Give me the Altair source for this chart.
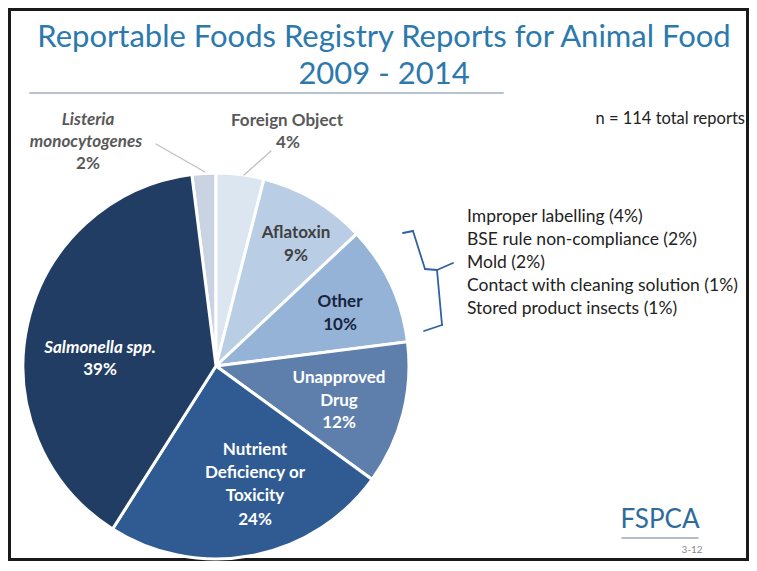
import math
import altair as alt
import pandas as pd

# ---------------- data ----------------
categories = ["Listeria monocytogenes", "Foreign Object", "Aflatoxin", "Other",
              "Unapproved Drug", "Nutrient Deficiency or Toxicity", "Salmonella spp."]
values = [2, 4, 9, 10, 12, 24, 39]
slice_colors = ["#c9d3e1", "#dce6f1", "#b9cde5", "#95b3d7", "#5e7fab", "#2f5b92", "#213d64"]
label_lines = [["Listeria", "monocytogenes"], ["Foreign Object"], ["Aflatoxin"], ["Other"],
               ["Unapproved", "Drug"], ["Nutrient", "Deficiency or", "Toxicity"], ["Salmonella spp."]]
other_items = ["Improper labelling", "BSE rule non-compliance", "Mold",
               "Contact with cleaning solution", "Stored product insects"]
other_values = [4, 2, 2, 1, 1]
n_total = 114
title_lines = ["Reportable Foods Registry Reports for Animal Food", "2009 - 2014"]

# ---------------- layout ----------------
W, H = 741, 553
OFF = 8
FONT = "Lato"
CX, CY, R = 216, 366, 193
LS = 17  # label font size


def px(v):
    return v - OFF


ONE = alt.Data(values=[{}])


def txt(s, x, y, size=LS, color="#404040", weight="bold", style="normal", align="center", font=FONT):
    return alt.Chart(ONE).mark_text(
        fontSize=size, color=color, fontWeight=weight, fontStyle=style,
        align=align, baseline="middle", font=font
    ).encode(x=alt.value(px(x)), y=alt.value(px(y)), text=alt.value(s))


def seg(x1, y1, x2, y2, color, w):
    return alt.Chart(ONE).mark_rule(color=color, strokeWidth=w, strokeCap="round").encode(
        x=alt.value(px(x1)), y=alt.value(px(y1)), x2=alt.value(px(x2)), y2=alt.value(px(y2)))


pie_df = pd.DataFrame({"category": categories, "value": values, "order": list(range(len(categories)))})
start = -values[0] / sum(values) * 2 * math.pi
pie = alt.Chart(pie_df).mark_arc(outerRadius=R, stroke="white", strokeWidth=3).encode(
    theta=alt.Theta("value:Q", stack=True, scale=alt.Scale(range=[start, start + 2 * math.pi])),
    order=alt.Order("order:Q"),
    color=alt.Color("category:N", scale=alt.Scale(domain=categories, range=slice_colors), legend=None),
    x=alt.value(px(CX)), y=alt.value(px(CY)),
)

frame = alt.Chart(ONE).mark_rect(filled=False, stroke="#1a1a1a", strokeWidth=3).encode(
    x=alt.value(1.5), x2=alt.value(W - 1.5), y=alt.value(1.5), y2=alt.value(H - 1.5))

layers = [frame, pie]

# title
TCOL = "#2b79ad"
layers.append(txt(title_lines[0], 384, 38, size=31, color=TCOL, weight="normal"))
layers.append(txt(title_lines[1], 384, 75, size=31, color=TCOL, weight="normal"))
layers.append(seg(30, 93, 503, 93, "#b7c3d1", 2))

# n total
layers.append(txt(f"n = {n_total} total reports", 745, 119, size=16.5, color="#222222",
                  weight="normal", align="right"))

pct = [f"{v}%" for v in values]
GREY = "#595959"
# Listeria (outside)
layers.append(txt(label_lines[0][0], 88, 120, color=GREY, style="italic"))
layers.append(txt(label_lines[0][1], 86, 142, color=GREY, style="italic"))
layers.append(txt(pct[0], 88, 164, color=GREY))
layers.append(seg(156, 144, 205, 172, "#bfbfbf", 1.2))
# Foreign Object (outside)
layers.append(txt(label_lines[1][0], 287, 121, color=GREY))
layers.append(txt(pct[1], 288, 143, color=GREY))
layers.append(seg(271, 151, 244, 175, "#bfbfbf", 1.2))
# Aflatoxin
layers.append(txt(label_lines[2][0], 296, 233, color="#404040"))
layers.append(txt(pct[2], 296, 256, color="#404040"))
# Other
layers.append(txt(label_lines[3][0], 340, 302, color="#17243d"))
layers.append(txt(pct[3], 340, 325, color="#17243d"))
# Unapproved drug
layers.append(txt(label_lines[4][0], 339, 378, color="white"))
layers.append(txt(label_lines[4][1], 339, 401, color="white"))
layers.append(txt(pct[4], 339, 423, color="white"))
# Nutrient
layers.append(txt(label_lines[5][0], 255, 450, color="white"))
layers.append(txt(label_lines[5][1], 255, 473, color="white"))
layers.append(txt(label_lines[5][2], 255, 496, color="white"))
layers.append(txt(pct[5], 255, 520, color="white"))
# Salmonella
layers.append(txt(label_lines[6][0], 100, 348, color="white", style="italic"))
layers.append(txt(pct[6], 100, 370, color="white"))

# other breakdown list
for i, (item, v) in enumerate(zip(other_items, other_values)):
    layers.append(txt(f"{item} ({v}%)", 467, 217 + 23 * i, size=17.5, color="#222222",
                      weight="normal", align="left"))

# brace
BC = "#2e62a3"
for (a, b, c, d) in [(403, 233, 413, 231), (413, 231, 425, 269), (425, 269, 437, 270),
                     (437, 270, 453, 263), (437, 270, 442, 325), (442, 325, 424, 331)]:
    layers.append(seg(a, b, c, d, BC, 1.8))

# logo
layers.append(txt("FSPCA", 660, 520, size=26, color="#2d6b9c", weight="normal"))
layers.append(seg(622, 538, 698, 538, "#9aa7b5", 1.5))
layers.append(txt("3-12", 692, 550, size=10, color="#8a8a8a", weight="normal"))

chart = alt.layer(*layers).properties(
    width=W, height=H, autosize=alt.AutoSizeParams(type="none"), padding=0,
    background="white",
).configure_view(stroke=None)

chart.save("out.html", embed_options={"renderer": "svg", "actions": False})
